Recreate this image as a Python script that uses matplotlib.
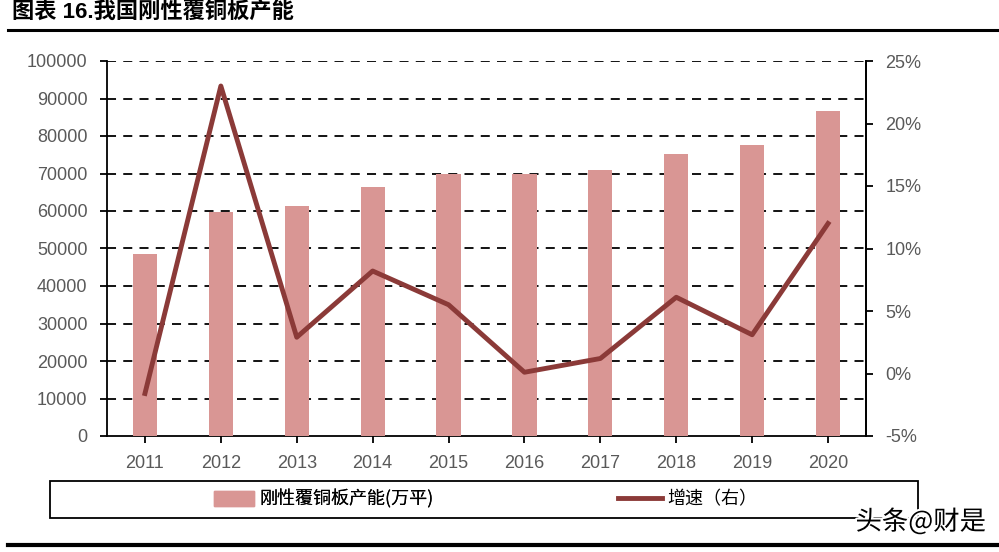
import matplotlib.pyplot as plt
import matplotlib.patheffects as pe
from matplotlib.patches import Patch, Rectangle
from matplotlib.lines import Line2D
import numpy as np

years = ['2011', '2012', '2013', '2014', '2015', '2016', '2017', '2018', '2019', '2020']
capacity = [48500, 59700, 61300, 66500, 70000, 69900, 70900, 75200, 77500, 86700]
growth = [-1.6, 23.0, 2.9, 8.2, 5.5, 0.1, 1.2, 6.1, 3.1, 12.0]
left_ticks = list(range(0, 100001, 10000))
right_ticks = [-5, 0, 5, 10, 15, 20, 25]

bar_color = '#d99694'
line_color = '#8b3a38'
tick_color = '#595959'
plt.rcParams['font.family'] = ['Liberation Sans', 'Noto Sans CJK SC', 'DejaVu Sans']

fig = plt.figure(figsize=(9.99, 5.52), dpi=100)
ax = fig.add_axes([107 / 999, 1 - 436 / 552, (866 - 107) / 999, 375 / 552])
x = np.arange(len(years))

ax.bar(x, capacity, width=0.32, color=bar_color, zorder=3)
ax.set_xlim(-0.5, len(years) - 0.5)
ax.set_ylim(0, 100000)
ax.set_yticks(left_ticks)
ax.set_xticks(x)
ax.set_xticklabels(years)
for v in left_ticks[1:]:
    ax.axhline(v, color='black', lw=1.3, ls=(0, (5, 4)), zorder=1)
ax.tick_params(axis='both', colors='black', labelcolor=tick_color, labelsize=13,
               direction='out', length=5, width=1.3)
ax.tick_params(axis='y', pad=9)
ax.tick_params(axis='x', pad=9)
ax.spines['top'].set_visible(False)
for s in ['left', 'bottom', 'right']:
    ax.spines[s].set_linewidth(1.3)

ax2 = ax.twinx()
ax2.plot(x, growth, color=line_color, lw=3.5, zorder=4)
ax2.set_ylim(-5, 25)
ax2.set_yticks(right_ticks)
ax2.set_yticklabels([f'{v}%' for v in right_ticks])
ax2.tick_params(axis='y', colors='black', labelcolor=tick_color, labelsize=13,
                direction='out', length=5, width=1.3, pad=9)
for s in ['top', 'left', 'bottom']:
    ax2.spines[s].set_visible(False)
ax2.spines['right'].set_linewidth(1.3)

fig.text(12 / 999, 1 - 13 / 552, '图表 16.我国刚性覆铜板产能', fontsize=16,
         fontweight='bold', va='center', ha='left')
fig.add_artist(Line2D([8 / 999, 1], [1 - 30 / 552] * 2, color='black', lw=2.2))
fig.add_artist(Line2D([8 / 999, 1], [1 - 545 / 552] * 2, color='black', lw=3))

# legend frame
fig.add_artist(Rectangle((50 / 999, 1 - 518 / 552), 868 / 999, 37 / 552,
                         transform=fig.transFigure, fill=False, edgecolor='black', lw=1.3))
leg1 = fig.legend([Patch(color=bar_color)], ['刚性覆铜板产能(万平)'], loc='center left',
                  bbox_to_anchor=(198 / 999, 1 - 499 / 552), frameon=False,
                  handlelength=2.2, handleheight=0.9, handletextpad=0.3,
                  prop={'family': ['Noto Sans CJK SC'], 'size': 13})
leg2 = fig.legend([Line2D([0], [0], color=line_color, lw=3.5)], ['增速（右）'],
                  loc='center left', bbox_to_anchor=(602 / 999, 1 - 499 / 552),
                  frameon=False, handlelength=2.4, handletextpad=0.3,
                  prop={'family': ['Noto Sans CJK SC'], 'size': 13})
fig.add_artist(leg1)

wm = fig.text(986 / 999, 1 - 522 / 552, '头条@财是', fontsize=19, ha='right', va='center',
              color='black', family=['Noto Sans CJK SC'])
wm.set_path_effects([pe.withStroke(linewidth=3, foreground='white')])

fig.savefig('out.png', dpi=100)
